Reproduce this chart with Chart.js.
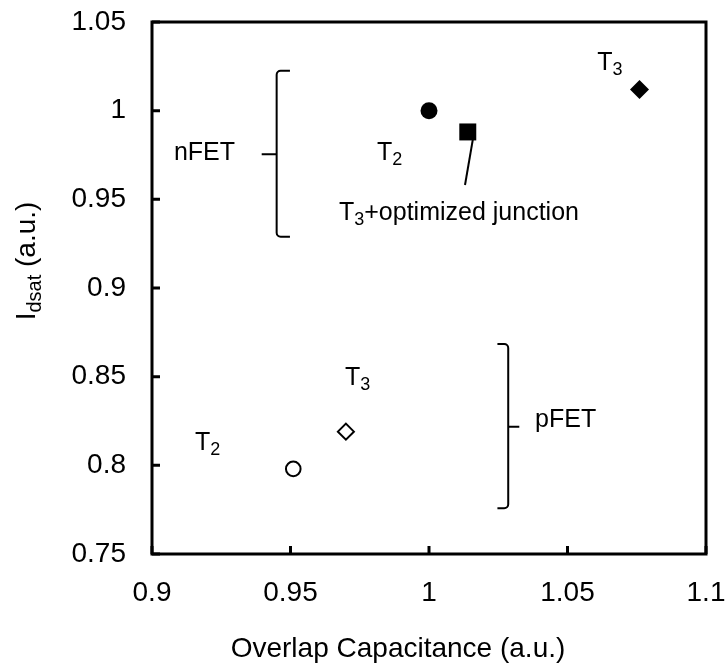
<!DOCTYPE html>
<html>
<head>
<meta charset="utf-8">
<script src="https://cdn.jsdelivr.net/npm/chart.js@4.4.1/dist/chart.umd.min.js"></script>
<style>
  html, body { margin:0; padding:0; background:#fff; }
  #wrap { width:725px; height:666px; }
</style>
</head>
<body>
<div id="wrap"><canvas id="chart" width="725" height="666"></canvas></div>
<script>
// Idsat vs overlap capacitance, T2 / T3 process splits
const nfetNames = ['T2', 'T3+optimized junction', 'T3'];
const nfetCap = [1.000, 1.014, 1.076];
const nfetIdsat = [1.000, 0.988, 1.012];
const pfetNames = ['T2', 'T3'];
const pfetCap = [0.951, 0.970];
const pfetIdsat = [0.798, 0.819];

const xTicks = [0.9, 0.95, 1, 1.05, 1.1];
const xTickLabels = ['0.9', '0.95', '1', '1.05', '1.1'];
const yTicks = [0.75, 0.8, 0.85, 0.9, 0.95, 1, 1.05];
const yTickLabels = ['0.75', '0.8', '0.85', '0.9', '0.95', '1', '1.05'];

const FONT = '"Liberation Sans", Arial, sans-serif';
const INK = '#000';

// text labels, anchored at the left end of the baseline (data units)
const notes = [
  { x: 0.9079, y: 0.9722, runs: [['nFET']] },
  { x: 0.9812, y: 0.9722, runs: [['T'], ['2', 'sub']] },
  { x: 1.0607, y: 1.0229, runs: [['T'], ['3', 'sub']] },
  { x: 0.9675, y: 0.9383, runs: [['T'], ['3', 'sub'], ['+optimized junction']] },
  { x: 0.9155, y: 0.8087, runs: [['T'], ['2', 'sub']] },
  { x: 0.9697, y: 0.8453, runs: [['T'], ['3', 'sub']] },
  { x: 1.0383, y: 0.8216, runs: [['pFET']] },
];
// group braces: spine x, hook end x, tip end x, top, bottom, tip y
const braces = [
  { x: 0.9450, hook: 0.9498, tip: 0.9396, top: 1.0225, bottom: 0.9289, mid: 0.9754 },
  { x: 1.0286, hook: 1.0247, tip: 1.0326, top: 0.8684, bottom: 0.7758, mid: 0.8218 },
];
const leader = { x1: 1.0158, y1: 0.9835, x2: 1.0130, y2: 0.9581 };

function drawRuns(ctx, x, y, runs, size, align) {
  const sub = Math.round(size * 0.72);
  const widths = runs.map(([t, k]) => {
    ctx.font = `${k ? sub : size}px ${FONT}`;
    return ctx.measureText(t).width;
  });
  const total = widths.reduce((a, b) => a + b, 0);
  let cx = align === 'center' ? x - total / 2 : x;
  ctx.textAlign = 'left';
  ctx.textBaseline = 'alphabetic';
  runs.forEach(([t, k], i) => {
    ctx.font = `${k ? sub : size}px ${FONT}`;
    ctx.fillText(t, cx, k ? y + size * 0.2 : y);
    cx += widths[i];
  });
}

const decor = {
  id: 'decor',
  afterDatasetsDraw(chart) {
    const { ctx, chartArea: a, scales: { x, y } } = chart;
    const px = v => x.getPixelForValue(v);
    const py = v => y.getPixelForValue(v);
    ctx.save();
    ctx.strokeStyle = INK;
    ctx.fillStyle = INK;

    // frame and inward tick marks
    ctx.lineWidth = 3;
    ctx.strokeRect(a.left, a.top, a.right - a.left, a.bottom - a.top);
    ctx.beginPath();
    yTicks.forEach(v => { ctx.moveTo(a.left, py(v)); ctx.lineTo(a.left + 8, py(v)); });
    xTicks.forEach(v => { ctx.moveTo(px(v), a.bottom); ctx.lineTo(px(v), a.bottom - 8); });
    ctx.stroke();

    // braces
    ctx.lineWidth = 2;
    ctx.lineJoin = 'round';
    braces.forEach(b => {
      const sx = px(b.x), r = 4;
      ctx.beginPath();
      ctx.moveTo(px(b.hook), py(b.top));
      ctx.arcTo(sx, py(b.top), sx, py(b.mid), r);
      ctx.lineTo(sx, py(b.bottom) - r);
      ctx.arcTo(sx, py(b.bottom), px(b.hook), py(b.bottom), r);
      ctx.lineTo(px(b.hook), py(b.bottom));
      ctx.moveTo(px(b.tip), py(b.mid));
      ctx.lineTo(sx, py(b.mid));
      ctx.stroke();
    });

    // leader to the optimized-junction point
    ctx.beginPath();
    ctx.moveTo(px(leader.x1), py(leader.y1));
    ctx.lineTo(px(leader.x2), py(leader.y2));
    ctx.stroke();

    notes.forEach(n => drawRuns(ctx, px(n.x), py(n.y), n.runs, 25, 'left'));

    // axis titles
    drawRuns(ctx, 398, 657, [['Overlap Capacitance (a.u.)']], 28, 'center');
    ctx.translate(35, 261);
    ctx.rotate(-Math.PI / 2);
    drawRuns(ctx, 0, 0, [['I'], ['dsat', 'sub'], [' (a.u.)']], 28, 'center');
    ctx.restore();
  }
};

const tickFont = { family: FONT, size: 28 };

new Chart(document.getElementById('chart'), {
  type: 'scatter',
  data: {
    datasets: [
      {
        label: 'nFET',
        data: nfetCap.map((v, i) => ({ x: v, y: nfetIdsat[i], name: nfetNames[i] })),
        pointStyle: ['circle', 'rect', 'rectRot'],
        pointRadius: [8.5, 12, 9.5],
        pointHoverRadius: [8.5, 12, 9.5],
        backgroundColor: INK,
        borderColor: INK,
        borderWidth: 0,
      },
      {
        label: 'pFET',
        data: pfetCap.map((v, i) => ({ x: v, y: pfetIdsat[i], name: pfetNames[i] })),
        pointStyle: ['circle', 'rectRot'],
        pointRadius: [7.3, 8],
        pointHoverRadius: [7.3, 8],
        backgroundColor: '#fff',
        borderColor: INK,
        borderWidth: 2,
      },
    ],
  },
  options: {
    responsive: false,
    animation: false,
    layout: { padding: { left: 0, top: 22, right: 19, bottom: 0 } },
    plugins: { legend: { display: false }, tooltip: { enabled: false } },
    scales: {
      x: {
        type: 'linear', min: 0.9, max: 1.1,
        afterBuildTicks: s => { s.ticks = xTicks.map(v => ({ value: v })); },
        afterFit: s => { s.height = 112; s.paddingLeft = 0; s.paddingRight = 0; },
        grid: { display: false, drawTicks: false },
        border: { display: false },
        ticks: { font: tickFont, color: INK, padding: 22, maxRotation: 0,
                 callback: (v, i) => xTickLabels[i] },
      },
      y: {
        type: 'linear', min: 0.75, max: 1.05,
        afterBuildTicks: s => { s.ticks = yTicks.map(v => ({ value: v })); },
        afterFit: s => { s.width = 152; s.paddingTop = 0; s.paddingBottom = 0; },
        grid: { display: false, drawTicks: false },
        border: { display: false },
        ticks: { font: tickFont, color: INK, padding: 26,
                 callback: (v, i) => yTickLabels[i] },
      },
    },
  },
  plugins: [decor],
});
</script>
</body>
</html>
